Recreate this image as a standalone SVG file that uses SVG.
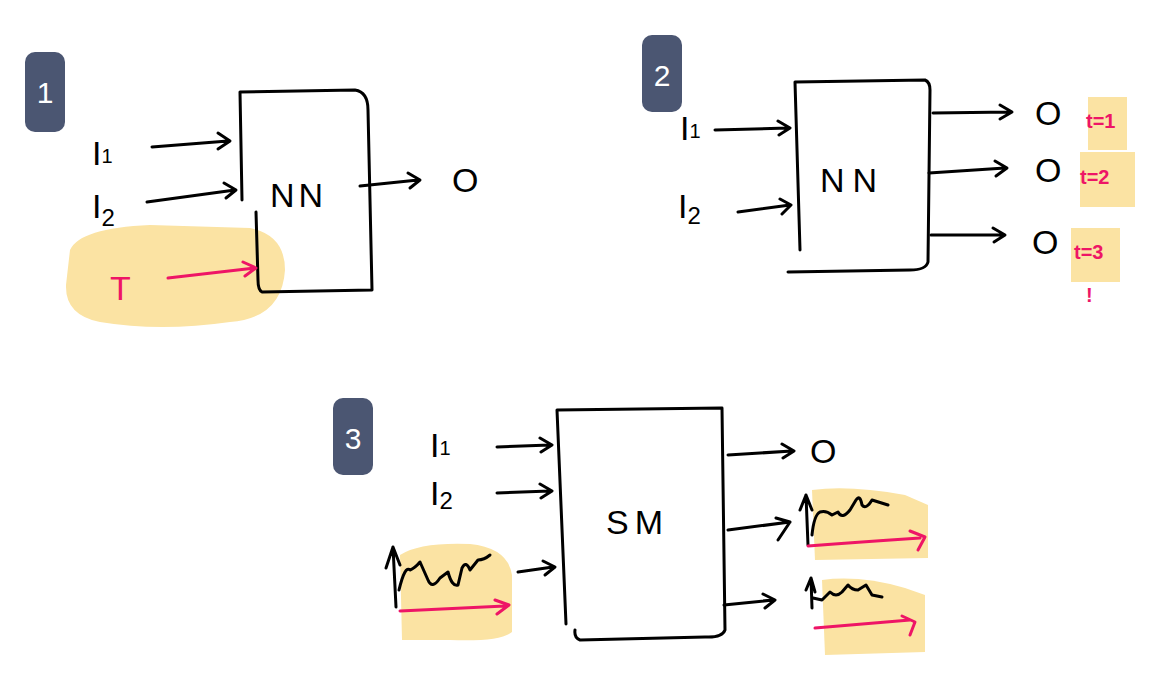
<svg xmlns="http://www.w3.org/2000/svg" width="1166" height="687" viewBox="0 0 1166 687">
<defs>
<style>
.k{fill:none;stroke:#000;stroke-width:3;stroke-linecap:round;stroke-linejoin:round}
.p{fill:none;stroke:#ee1566;stroke-width:3;stroke-linecap:round;stroke-linejoin:round}
.hl{fill:#fbe3a3}
.bd{fill:#4b5672}
.bt{fill:#fff;font-family:"Liberation Sans",sans-serif;font-size:30px;text-anchor:middle}
.t{fill:#000;font-family:"Liberation Sans",sans-serif;font-size:34px}
.tp{fill:#ee1566;font-family:"Liberation Sans",sans-serif;font-size:20px;font-weight:bold}
</style>
</defs>
<rect width="1166" height="687" fill="#fff"/>
<g id="highlights">
<path class="hl" d="M70,250 Q80,228 150,225 L250,228 Q285,235 285,270 Q282,318 230,322 Q160,332 100,322 Q65,315 66,285 Z"/>
<rect class="hl" x="1088" y="97" width="39" height="53"/>
<rect class="hl" x="1080" y="152" width="55" height="55"/>
<rect class="hl" x="1071" y="228" width="49" height="54"/>
<path class="hl" d="M400,555 Q420,542 470,544 Q508,548 512,575 L512,632 Q500,642 450,640 L402,640 Z"/>
<path class="hl" d="M812,490 Q850,485 905,495 L928,505 L928,558 L815,560 Z"/>
<path class="hl" d="M822,580 Q860,575 905,588 L925,595 L925,652 L825,655 Z"/>
</g>
<g id="badge1"><rect class="bd" x="25" y="52" width="40" height="80" rx="10"/><text class="bt" x="45" y="103">1</text></g>
<g id="badge2"><rect class="bd" x="642" y="35" width="40" height="77" rx="10"/><text class="bt" x="662" y="86">2</text></g>
<g id="badge3"><rect class="bd" x="333" y="398" width="40" height="77" rx="10"/><text class="bt" x="353" y="449">3</text></g>
<g id="nn1">
<path class="k" d="M240,92 L355,90 Q368,92 368,110 L372,290 L262,292 Q258,290 258,280 L256,212 M240,92 L242,200"/>
<text class="t" x="270" y="207" letter-spacing="4">NN</text>
</g>
<g id="nn2">
<path class="k" d="M795,82 L925,80 Q930,82 930,90 L928,262 Q926,270 910,270 L788,272 M795,82 L800,250"/>
<text class="t" x="820" y="192" letter-spacing="8">NN</text>
</g>
<g id="sm">
<path class="k" d="M557,410 L722,408 L725,630 Q722,638 705,637 L580,640 Q574,638 575,630 M557,410 L566,624"/>
<text class="t" x="606" y="534" letter-spacing="6">SM</text>
</g>
<g id="labels">
<text class="t" x="92" y="165">I<tspan font-size="20" dy="-2">1</tspan></text>
<text class="t" x="92" y="218">I<tspan font-size="24" dy="8">2</tspan></text>
<text class="t" x="110" y="300" style="fill:#ee1566">T</text>
<text class="t" x="452" y="192" font-size="38">O</text>
<text class="t" x="680" y="140">I<tspan font-size="20" dy="-2">1</tspan></text>
<text class="t" x="678" y="218">I<tspan font-size="24" dy="6">2</tspan></text>
<text class="t" x="1035" y="125" font-size="38">O</text>
<text class="t" x="1035" y="182" font-size="38">O</text>
<text class="t" x="1032" y="254" font-size="38">O</text>
<text class="tp" x="1086" y="128">t=1</text>
<text class="tp" x="1080" y="184">t=2</text>
<text class="tp" x="1074" y="259">t=3</text>
<text class="tp" x="1086" y="302">!</text>
<text class="t" x="430" y="457">I<tspan font-size="20" dy="-2">1</tspan></text>
<text class="t" x="430" y="505">I<tspan font-size="24" dy="4">2</tspan></text>
<text class="t" x="810" y="463" font-size="36">O</text>
</g>
<g id="connectors">
<path class="k" d="M152,147 L228,141 M218,133 L230,141 L218,149"/>
<path class="k" d="M147,202 L235,190 M224,183 L236,190 L226,198"/>
<path class="p" d="M168,278 L255,268 M243,262 L256,268 L245,276"/>
<path class="k" d="M360,186 L418,180 M408,173 L420,180 L410,188"/>
<path class="k" d="M715,130 L788,128 M778,121 L790,128 L779,135"/>
<path class="k" d="M738,212 L790,205 M780,199 L791,205 L782,214"/>
<path class="k" d="M933,113 L1010,112 M1000,105 L1012,112 L1000,119"/>
<path class="k" d="M929,173 L1005,168 M995,161 L1007,168 L996,176"/>
<path class="k" d="M931,235 L1003,235 M993,228 L1005,235 L994,242"/>
<path class="k" d="M497,447 L550,445 M540,438 L552,445 L541,452"/>
<path class="k" d="M497,493 L550,491 M540,484 L552,491 L541,498"/>
<path class="k" d="M518,572 L553,567 M543,561 L555,567 L545,575"/>
<path class="k" d="M728,455 L792,451 M782,444 L794,451 L783,458"/>
<path class="k" d="M728,530 L790,522 M776,518 L790,522 L778,540"/>
<path class="k" d="M724,605 L773,600 M763,594 L775,600 L765,608"/>
</g>
<g id="charts">
<path class="k" d="M396,607 L393,547 L386,568 M393,547 L400,565 M399,590 Q405,565 410,570 Q415,568 420,562 L428,580 Q432,590 440,578 L448,572 Q452,587 458,585 L462,568 Q466,560 470,570 L478,560 Q484,560 490,555"/>
<path class="p" d="M400,611 L505,606 M495,600 L509,605 L497,614"/>
<path class="k" d="M808,545 L806,495 L800,510 M806,495 L812,510 M812,535 Q814,515 820,512 Q826,510 832,515 L838,512 Q842,520 850,510 L856,500 Q860,494 862,505 Q866,510 872,500 L888,505"/>
<path class="p" d="M808,546 Q860,542 920,538 M910,531 L925,537 L918,550"/>
<path class="k" d="M812,608 L811,578 L806,590 M811,578 L815,592 M813,598 L822,600 L830,592 Q836,598 842,592 L848,585 Q852,590 858,590 L866,585 L872,595 L882,597"/>
<path class="p" d="M815,628 L910,620 M902,616 L915,622 L910,635"/>
</g>
</svg>
